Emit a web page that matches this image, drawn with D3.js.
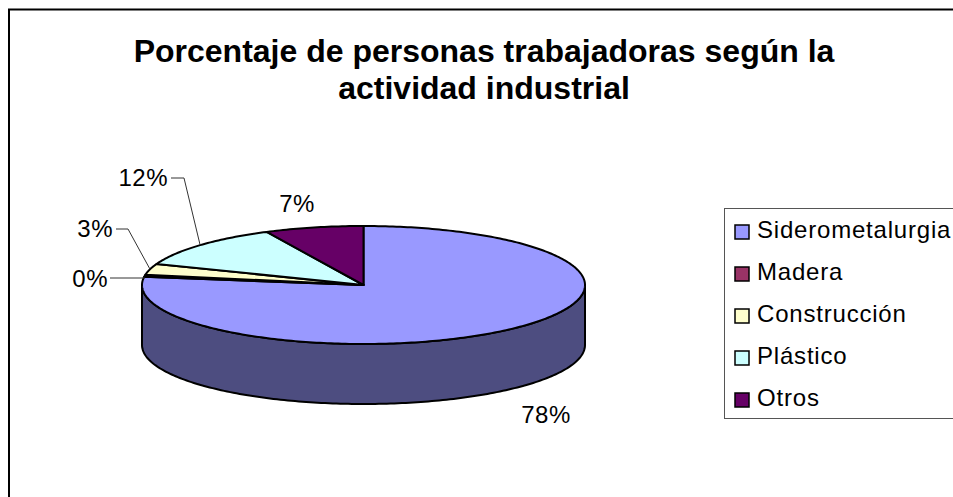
<!DOCTYPE html>
<html lang="es">
  <head>
    <meta charset="UTF-8">
    <title>Actividad industrial</title>
    <style>
      html, body { margin: 0; background: #fff; overflow: hidden; }
      svg { display: block; font-family: 'Liberation Sans', Arial, sans-serif; }
    </style>
  </head>
  <body>
    <svg id="chart" width="953" height="497"></svg>
    <script src="https://d3js.org/d3.v7.min.js"></script>
    <script>
      const titleLines = ['Porcentaje de personas trabajadoras según la', 'actividad industrial'];
      const categories = ['Siderometalurgia', 'Madera', 'Construcción', 'Plástico', 'Otros'];
      const values = [77.2, 0.6, 3.0, 12.0, 7.2];
      const percentLabels = ['78%', '0%', '3%', '12%', '7%'];
      const colors = ['#9999ff', '#993366', '#ffffcc', '#ccffff', '#660066'];
      const wallColor = '#4d4d80';

      const svg = d3.select('#chart');

      // 3D look: unit circle squeezed into an ellipse
      const x = d3.scaleLinear().domain([-1, 1]).range([142, 585]);
      const y = d3.scaleLinear().domain([-1, 1]).range([226, 344]);
      const depth = 60;
      const project = a => [x(Math.sin(a)), y(-Math.cos(a))];

      svg.append('rect')
        .attr('x', 9).attr('y', 9.5)
        .attr('width', 1000).attr('height', 600)
        .attr('fill', '#fff').attr('stroke', '#000').attr('stroke-width', 2);

      svg.selectAll('text.title')
        .data(titleLines)
        .join('text')
        .attr('class', 'title')
        .attr('x', 484)
        .attr('y', (d, i) => 62 + i * 37)
        .attr('text-anchor', 'middle')
        .attr('font-size', 32)
        .attr('font-weight', 'bold')
        .text(d => d);

      const arcs = d3.pie().sort(null).value(d => d)(values);

      // side wall, lower half of the ellipse only
      const wallAngles = d3.range(90, 270.5, 1).map(d => d * Math.PI / 180);
      const line = d3.line();
      const wallPts = wallAngles.map(project)
        .concat(wallAngles.slice().reverse().map(a => {
          const p = project(a);
          return [p[0], p[1] + depth];
        }));
      svg.append('path')
        .attr('d', line(wallPts) + 'Z')
        .attr('fill', wallColor)
        .attr('stroke', '#000')
        .attr('stroke-width', 2);

      const slicePath = d => {
        const n = Math.max(2, Math.ceil((d.endAngle - d.startAngle) * 60));
        const pts = d3.range(n + 1).map(i => project(d.startAngle + (d.endAngle - d.startAngle) * i / n));
        return line([[x(0), y(0)], ...pts]) + 'Z';
      };

      svg.selectAll('path.slice')
        .data(arcs)
        .join('path')
        .attr('class', 'slice')
        .attr('d', slicePath)
        .attr('fill', (d, i) => colors[i])
        .attr('stroke', '#000')
        .attr('stroke-width', 2)
        .attr('stroke-linejoin', 'round');

      // label spots, same order as categories; elbow: where the leader bends
      const labelSpots = [
        { x: 546, y: 423, anchor: 'middle' },
        { x: 108, y: 287, anchor: 'end', elbow: null },
        { x: 113, y: 237, anchor: 'end', elbow: [128, 229] },
        { x: 168, y: 186, anchor: 'end', elbow: [184, 178] },
        { x: 297, y: 212, anchor: 'middle' }
      ];

      svg.selectAll('text.pct')
        .data(percentLabels)
        .join('text')
        .attr('class', 'pct')
        .attr('x', (d, i) => labelSpots[i].x)
        .attr('y', (d, i) => labelSpots[i].y)
        .attr('text-anchor', (d, i) => labelSpots[i].anchor)
        .attr('font-size', 24)
        .attr('letter-spacing', 0.5)
        .attr('fill', '#000')
        .text(d => d);

      arcs.forEach((d, i) => {
        const spot = labelSpots[i];
        if (spot.elbow === undefined) return;
        const tip = project((d.startAngle + d.endAngle) / 2);
        const pts = spot.elbow
          ? [[spot.x + 3, spot.elbow[1]], spot.elbow, tip]
          : [[spot.x + 2, spot.y - 9], [tip[0], spot.y - 9]];
        svg.append('path')
          .attr('d', line(pts))
          .attr('fill', 'none')
          .attr('stroke', '#333')
          .attr('stroke-width', 1);
      });

      // legend runs off the right edge like in the original
      const legend = svg.append('g');
      legend.append('rect')
        .attr('x', 724.5).attr('y', 208.5)
        .attr('width', 300).attr('height', 210)
        .attr('fill', '#fff').attr('stroke', '#555').attr('stroke-width', 1);

      const row = d3.scalePoint().domain(categories).range([232, 400]);

      legend.selectAll('rect.key')
        .data(categories)
        .join('rect')
        .attr('class', 'key')
        .attr('x', 735).attr('y', d => row(d) - 7)
        .attr('width', 14).attr('height', 14)
        .attr('fill', (d, i) => colors[i])
        .attr('stroke', '#000')
        .attr('stroke-width', 1.5);

      legend.selectAll('text')
        .data(categories)
        .join('text')
        .attr('x', 757)
        .attr('y', d => row(d) + 6)
        .attr('font-size', 24)
        .attr('letter-spacing', 0.8)
        .text(d => d);
    </script>
  </body>
</html>
